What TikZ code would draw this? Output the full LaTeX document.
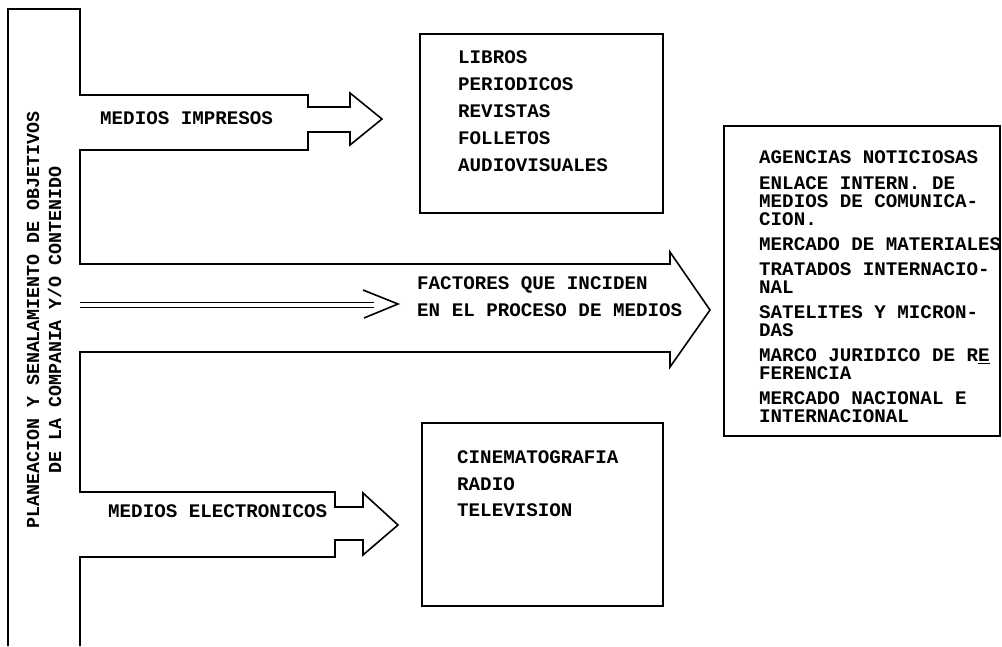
\documentclass[tikz,border=0pt]{standalone}
\usepackage{fontspec}
\setmonofont{Liberation Mono}
\usetikzlibrary{positioning}

\begin{document}
\begin{tikzpicture}[x=1pt,y=-1pt,
  outline/.style={line width=1.6pt,line join=miter},
  box/.style={draw,line width=1.6pt,inner sep=0pt},
  lbl/.style={font={\ttfamily\bfseries\fontsize{19.2pt}{27pt}\selectfont},inner sep=0pt,anchor=west,align=left},
  itm/.style={lbl,font={\ttfamily\bfseries\fontsize{19.2pt}{18pt}\selectfont}}]
\useasboundingbox (0,0) rectangle (1002,646);
% stem with the three arrows
\draw[outline] (8,646) -- (8,9) -- (80,9) -- (80,95)
  -- (308,95) -- (308,107) -- (350,107) -- (350,93) -- (382,119)
  -- (350,145) -- (350,132) -- (308,132) -- (308,150) -- (80,150)
  -- (80,264) -- (670,264) -- (670,252) -- (710,310) -- (670,367)
  -- (670,352) -- (80,352) -- (80,492) -- (335,492) -- (335,507)
  -- (363,507) -- (363,493) -- (398,525) -- (363,555) -- (363,540)
  -- (335,540) -- (335,557) -- (80,557) -- (80,646);
\node[lbl,rotate=90,anchor=center,align=center,
  font={\ttfamily\bfseries\fontsize{18.3pt}{22pt}\selectfont}] (plan) at (44,320)
  {PLANEACION Y SENALAMIENTO DE OBJETIVOS\\DE LA COMPANIA Y/O CONTENIDO};
\node[lbl] (impr) at (100,118) {MEDIOS IMPRESOS};
\node[lbl] (elec) at (108,511) {MEDIOS ELECTRONICOS};
\node[lbl] (fact) at (417,297) {FACTORES QUE INCIDEN\\EN EL PROCESO DE MEDIOS};
% double arrow
\coordinate (dblS) at (80,305);
\coordinate (dblE) at (374,305);
\draw[line width=1.2pt,double distance=4.5pt] (dblS) -- (dblE);
\draw[line width=1.6pt] (dblE) ++(-11,-15) -- ++(35,14) -- ++(-34,14);
% printed media
\node[box,minimum width=243pt,minimum height=179pt] (impbox) at (541.5,123.5) {};
\node[lbl] (implist) at (458,111) {LIBROS\\PERIODICOS\\REVISTAS\\FOLLETOS\\AUDIOVISUALES};
% electronic media
\node[box,minimum width=241pt,minimum height=183pt] (elecbox) at (542.5,514.5) {};
\node[lbl,font={\ttfamily\bfseries\fontsize{19.2pt}{26.5pt}\selectfont}] (eleclist) at (457,484)
  {CINEMATOGRAFIA\\RADIO\\TELEVISION};
% factors
\node[box,minimum width=276pt,minimum height=310pt] (factbox) at (862,281) {};
\node[itm] (agen) at (759,157) {AGENCIAS NOTICIOSAS};
\node[itm] (enla) at (759,201) {ENLACE INTERN. DE\\MEDIOS DE COMUNICA-\\CION.};
\node[itm] (merc) at (759,244) {MERCADO DE MATERIALES};
\node[itm] (trat) at (759,278) {TRATADOS INTERNACIO-\\NAL};
\node[itm] (sate) at (759,321) {SATELITES Y MICRON-\\DAS};
\node[itm] (marc) at (759,364) {MARCO JURIDICO DE R\underline{E}\\FERENCIA};
\node[itm] (mnac) at (759,407) {MERCADO NACIONAL E\\INTERNACIONAL};
\end{tikzpicture}
\end{document}
